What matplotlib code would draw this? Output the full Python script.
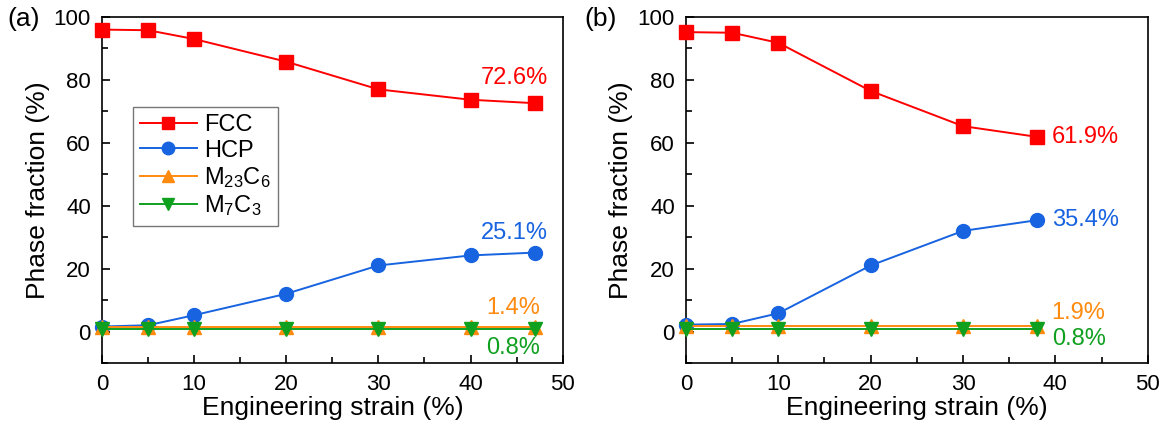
import matplotlib
matplotlib.use('Agg')
import matplotlib.pyplot as plt
from matplotlib.ticker import MultipleLocator

plt.rcParams['font.family'] = ['Liberation Sans', 'DejaVu Sans']
plt.rcParams['mathtext.default'] = 'regular'

# phase fractions (%) vs engineering strain (%)
strain_a = [0, 5, 10, 20, 30, 40, 47]
fcc_a = [96.0, 95.8, 93.0, 85.8, 77.0, 73.7, 72.6]
hcp_a = [1.6, 2.0, 5.2, 12.0, 21.0, 24.2, 25.1]
m23c6_a = [1.4, 1.4, 1.4, 1.4, 1.4, 1.4, 1.4]
m7c3_a = [0.8, 0.8, 0.8, 0.8, 0.8, 0.8, 0.8]

strain_b = [0, 5, 10, 20, 30, 38]
fcc_b = [95.2, 95.0, 91.8, 76.5, 65.3, 61.9]
hcp_b = [2.2, 2.4, 5.8, 21.0, 32.0, 35.4]
m23c6_b = [1.9, 1.9, 1.9, 1.9, 1.9, 1.9]
m7c3_b = [0.8, 0.8, 0.8, 0.8, 0.8, 0.8]

names = ['FCC', 'HCP', 'M$_{23}$C$_6$', 'M$_7$C$_3$']
colors = ['#ff0000', '#1763e0', '#ff8a10', '#10a020']
markers = ['s', 'o', '^', 'v']

fig = plt.figure(figsize=(11.69, 4.33), dpi=100)
ax_a = fig.add_axes([0.0873, 0.1617, 0.394, 0.799])
ax_b = fig.add_axes([0.5868, 0.1617, 0.395, 0.799])


def draw(ax, x, series):
    for y, name, c, m in zip(series, names, colors, markers):
        ax.plot(x, y, color=c, marker=m, markersize=10, lw=1.4, label=name,
                clip_on=False, zorder=3)
    ax.set_xlim(0, 50)
    ax.set_ylim(-10, 100)
    ax.xaxis.set_major_locator(MultipleLocator(10))
    ax.xaxis.set_minor_locator(MultipleLocator(5))
    ax.yaxis.set_major_locator(MultipleLocator(20))
    ax.yaxis.set_minor_locator(MultipleLocator(10))
    ax.tick_params(which='both', direction='in', top=False, right=False,
                   labelsize=16, width=1.2)
    ax.tick_params(which='major', length=6, pad=8)
    ax.tick_params(which='minor', length=4)
    for s in ax.spines.values():
        s.set_linewidth(1.2)
    ax.set_xlabel('Engineering strain (%)', fontsize=19, labelpad=1)
    ax.set_ylabel('Phase fraction (%)', fontsize=19, labelpad=3)


draw(ax_a, strain_a, [fcc_a, hcp_a, m23c6_a, m7c3_a])
draw(ax_b, strain_b, [fcc_b, hcp_b, m23c6_b, m7c3_b])

# final-value labels
fs = 17
ax_a.text(44.8, 80.6, f'{fcc_a[-1]}%', color=colors[0], fontsize=fs, ha='center', va='center')
ax_a.text(44.8, 31.4, f'{hcp_a[-1]}%', color=colors[1], fontsize=fs, ha='center', va='center')
ax_a.text(44.6, 7.6, f'{m23c6_a[-1]}%', color=colors[2], fontsize=fs, ha='center', va='center')
ax_a.text(44.6, -5.1, f'{m7c3_a[-1]}%', color=colors[3], fontsize=fs, ha='center', va='center')

ax_b.text(39.6, fcc_b[-1], f'{fcc_b[-1]}%', color=colors[0], fontsize=fs, ha='left', va='center')
ax_b.text(39.6, hcp_b[-1], f'{hcp_b[-1]}%', color=colors[1], fontsize=fs, ha='left', va='center')
ax_b.text(39.6, 6.0, f'{m23c6_b[-1]}%', color=colors[2], fontsize=fs, ha='left', va='center')
ax_b.text(39.6, -2.5, f'{m7c3_b[-1]}%', color=colors[3], fontsize=fs, ha='left', va='center')

leg = ax_a.legend(loc='upper left', bbox_to_anchor=(0.067, 0.74), fontsize=17,
                  handlelength=2.4, handletextpad=0.3, labelspacing=0.15,
                  borderpad=0.3, borderaxespad=0, fancybox=False,
                  edgecolor='#555555', markerscale=0.9)
leg.get_frame().set_linewidth(1.0)

fig.text(0.006, 0.955, '(a)', fontsize=19, va='center', ha='left')
fig.text(0.5, 0.955, '(b)', fontsize=19, va='center', ha='left')

fig.savefig('out.png', dpi=100)
